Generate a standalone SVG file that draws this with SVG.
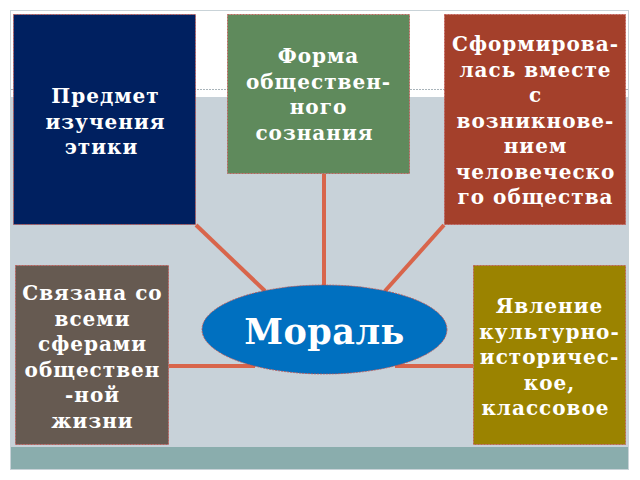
<svg xmlns="http://www.w3.org/2000/svg" width="640" height="480" viewBox="0 0 640 480">
<style>
.box{stroke:#C0504D;stroke-width:0.8;stroke-dasharray:2 1}
.t{font-family:"DejaVu Serif",serif;font-weight:bold;font-size:20px;letter-spacing:1px;fill:#FFFFFF;text-anchor:middle}
.big{font-size:35px;letter-spacing:0.5px}
.c{stroke:#D8654B;stroke-width:4;fill:none}
</style>
<rect x="0" y="0" width="640" height="480" fill="#FFFFFF"/>
<rect x="10.5" y="10.5" width="618" height="459" fill="#FFFFFF" stroke="#C9D3D8" stroke-width="1"/>
<rect x="11" y="97" width="617" height="350" fill="#C8D2D9"/>
<line x1="11" y1="89.5" x2="628" y2="89.5" stroke="#A9B4BA" stroke-width="1" stroke-dasharray="2 1"/>
<rect x="11" y="447" width="617" height="22" fill="#8AADAD"/>
<g id="connectors">
<line class="c" x1="196" y1="225" x2="265" y2="291"/>
<line class="c" x1="324" y1="174" x2="324" y2="288"/>
<line class="c" x1="444" y1="225" x2="385" y2="291"/>
<line class="c" x1="169" y1="366" x2="255" y2="366"/>
<line class="c" x1="395" y1="366" x2="473" y2="366"/>
</g>
<g id="n1">
<rect class="box" x="13.5" y="14.5" width="182" height="210" fill="#002060"/>
<text class="t"><tspan x="105.5" y="103">Предмет</tspan><tspan x="105.5" y="128.5">изучения</tspan><tspan x="101.5" y="154">этики</tspan></text>
</g>
<g id="n2">
<rect class="box" x="227.5" y="14.5" width="182" height="159" fill="#5F8A5C"/>
<text class="t"><tspan x="318.5" y="63">Форма</tspan><tspan x="318.5" y="88.5">обществен-</tspan><tspan x="318.5" y="114">ного</tspan><tspan x="314.5" y="139.5">сознания</tspan></text>
</g>
<g id="n3">
<rect class="box" x="444.5" y="14.5" width="181" height="210" fill="#A4402B"/>
<text class="t"><tspan x="535.5" y="51">Сформирова-</tspan><tspan x="535.5" y="76.5">лась вместе</tspan><tspan x="535.5" y="102">с</tspan><tspan x="535.5" y="127.5">возникнове-</tspan><tspan x="535.5" y="153">нием</tspan><tspan x="535.5" y="178.5">человеческо</tspan><tspan x="535.5" y="204">го общества</tspan></text>
</g>
<g id="n4">
<rect class="box" x="15.5" y="265.5" width="153" height="179" fill="#665A51"/>
<text class="t"><tspan x="92.5" y="300">Связана со</tspan><tspan x="92.5" y="325.5">всеми</tspan><tspan x="92.5" y="351">сферами</tspan><tspan x="92.5" y="376.5">обществен</tspan><tspan x="92.5" y="402">-ной</tspan><tspan x="92.5" y="427.5">жизни</tspan></text>
</g>
<g id="n5">
<rect class="box" x="473.5" y="265.5" width="152" height="179" fill="#9B8300"/>
<text class="t"><tspan x="549.5" y="313">Явление</tspan><tspan x="549.5" y="338.5">культурно-</tspan><tspan x="549.5" y="364">историчес-</tspan><tspan x="549.5" y="389.5">кое,</tspan><tspan x="545.5" y="415">классовое</tspan></text>
</g>
<g id="center">
<ellipse class="box" cx="324.5" cy="329.5" rx="122.5" ry="44.5" fill="#0070C0"/>
<text class="t big" x="324.5" y="344">Мораль</text>
</g>
</svg>
